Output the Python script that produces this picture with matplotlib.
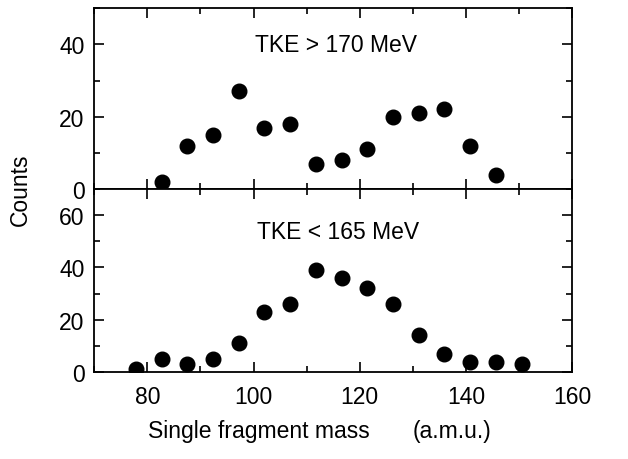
import matplotlib
matplotlib.use("Agg")
import matplotlib.pyplot as plt
from matplotlib.ticker import MultipleLocator

plt.rcParams['font.family'] = ['Liberation Sans', 'DejaVu Sans']
plt.rcParams['font.size'] = 16.5

# ---- data ----
mass_high = [82.7, 87.5, 92.4, 97.2, 102.0, 106.9, 111.7, 116.6, 121.4, 126.3, 131.1, 135.9, 140.8, 145.7]
counts_high = [2, 12, 15, 27, 17, 18, 7, 8, 11, 20, 21, 22, 12, 4]

mass_low = [77.9, 82.7, 87.5, 92.4, 97.2, 102.0, 106.9, 111.7, 116.6, 121.4, 126.3, 131.1, 135.9, 140.8, 145.7, 150.5]
counts_low = [1, 5, 3, 5, 11, 23, 26, 39, 36, 32, 26, 14, 7, 4, 4, 3]

x_ticks = [80, 100, 120, 140, 160]

fig = plt.figure(figsize=(6.28, 4.6), dpi=100)
ax_top = fig.add_axes([0.150, 0.587, 0.761, 0.393])
ax_bot = fig.add_axes([0.150, 0.189, 0.761, 0.398], sharex=ax_top)

for ax in (ax_top, ax_bot):
    ax.set_xlim(70, 160)
    ax.xaxis.set_major_locator(MultipleLocator(20))
    ax.xaxis.set_minor_locator(MultipleLocator(10))
    ax.yaxis.set_minor_locator(MultipleLocator(10))
    ax.tick_params(which='both', direction='in', top=True, right=True, width=1.2)
    ax.tick_params(which='major', length=7)
    ax.tick_params(which='minor', length=4)
    ax.tick_params(axis='y', pad=7)
    for s in ax.spines.values():
        s.set_linewidth(1.3)

ax_top.plot(mass_high, counts_high, 'o', color='black', markersize=10.5)
ax_top.set_ylim(0, 50)
ax_top.set_yticks([0, 20, 40])
ax_top.tick_params(labelbottom=False)
ax_top.text(0.505, 0.80, 'TKE > 170 MeV', transform=ax_top.transAxes,
            ha='center', va='center', fontsize=16.5)

ax_bot.plot(mass_low, counts_low, 'o', color='black', markersize=10.5)
ax_bot.set_ylim(0, 70)
ax_bot.set_yticks([0, 20, 40, 60])
ax_bot.set_xticks(x_ticks)
ax_bot.tick_params(axis='x', pad=9)
ax_bot.text(0.51, 0.766, 'TKE < 165 MeV', transform=ax_bot.transAxes,
            ha='center', va='center', fontsize=16.5)

fig.text(0.032, 0.587, 'Counts', rotation=90, ha='center', va='center', fontsize=16.5)
# x label: two parts with a wide gap, as in the original
fig.text(0.236, 0.048, 'Single fragment mass', ha='left', va='baseline', fontsize=16.5)
fig.text(0.657, 0.048, '(a.m.u.)', ha='left', va='baseline', fontsize=16.5)

fig.savefig('out.png', dpi=100)
